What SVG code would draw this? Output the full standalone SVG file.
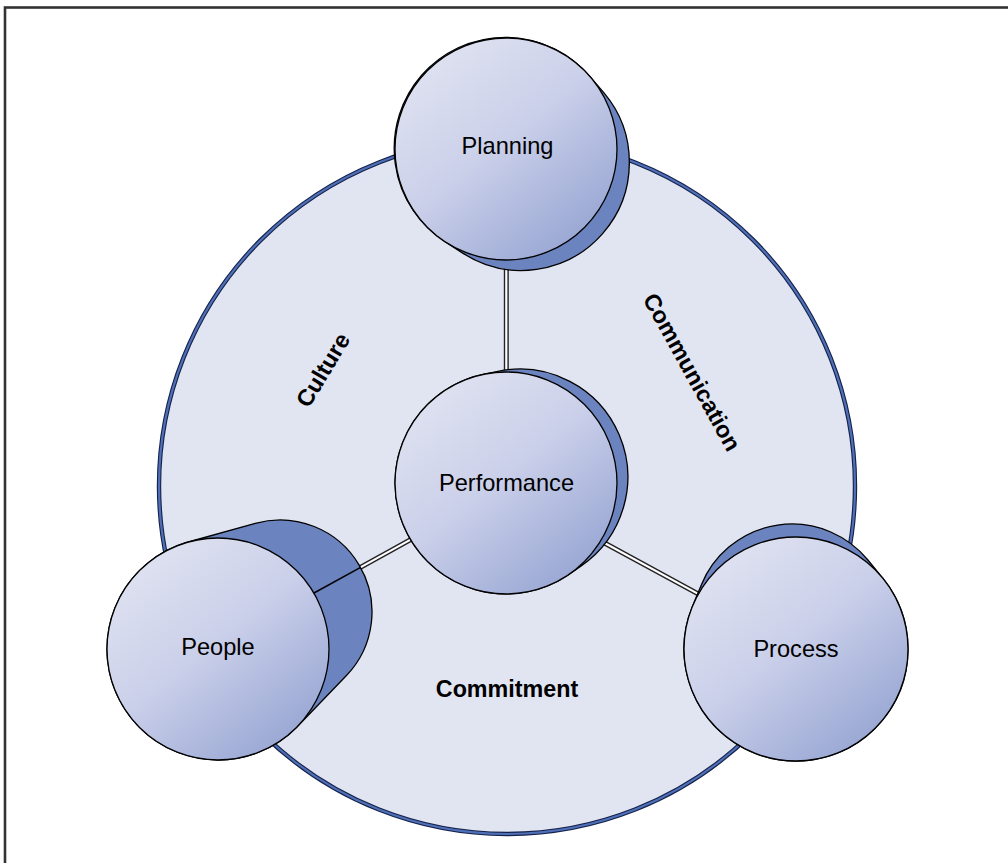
<svg xmlns="http://www.w3.org/2000/svg" width="1008" height="863" viewBox="0 0 1008 863">
<style>
.frame{fill:none;stroke:#333;stroke-width:2.6}
.big{fill:#e1e4f1}
.bigo{fill:none;stroke:#14214a;stroke-width:4.4}
.bigi{fill:none;stroke:#4f6fb6;stroke-width:2.2}
.shadow{fill:#6b84bf;stroke:#000;stroke-width:1.3;stroke-linejoin:round}
.front{fill:url(#g);stroke:#000;stroke-width:1.3}
.lbl{font-family:"Liberation Sans",Arial,sans-serif;font-size:23.6px;fill:#000;text-anchor:middle}
.blbl{font-family:"Liberation Sans",Arial,sans-serif;font-size:23.3px;font-weight:bold;fill:#000;text-anchor:middle}
.co{stroke:#222;stroke-width:5;fill:none}
.ci{stroke:#fff;stroke-width:2.2;fill:none}
.single{stroke:#000;stroke-width:1.5;fill:none}
</style>
<defs>
<linearGradient id="g" x1="0.15" y1="0.08" x2="0.85" y2="0.95">
<stop offset="0" stop-color="#dfe2f0"/>
<stop offset="0.45" stop-color="#cbd0ea"/>
<stop offset="1" stop-color="#95a4d2"/>
</linearGradient>
</defs>
<rect class="frame" x="5" y="7.5" width="1012" height="870"/>
<g id="ring">
<circle class="big" cx="507" cy="486" r="348"/>
<circle class="bigo" cx="507" cy="486" r="348"/>
<circle class="bigi" cx="507" cy="486" r="348"/>
</g>
<g id="connectors">
<line class="co" x1="506.3" y1="250" x2="506.3" y2="380"/>
<line class="ci" x1="506.3" y1="250" x2="506.3" y2="380"/>
<line class="co" x1="440" y1="523.4" x2="355" y2="570.4"/>
<line class="ci" x1="440" y1="523.4" x2="355" y2="570.4"/>
<line class="co" x1="570" y1="524.3" x2="705" y2="597.6"/>
<line class="ci" x1="570" y1="524.3" x2="705" y2="597.6"/>
</g>
<g id="labels">
<text class="blbl" transform="translate(323,370) rotate(-59)" x="0" y="8">Culture</text>
<text class="blbl" transform="translate(692,372) rotate(61)" x="0" y="8">Communication</text>
<text class="blbl" x="507" y="696.5">Commitment</text>
</g>
<g id="node-planning">
<path class="shadow" d="M590,76.7 L603.8,92.7 A108,108 0 0 1 463.1,253.4 L445.5,241.9 A111,111 0 1 1 590,76.7 Z"/>
<circle class="front" cx="506" cy="149" r="111"/>
<text class="lbl" x="507.5" y="154.3">Planning</text>
</g>
<g id="node-performance">
<path class="shadow" d="M483.2,374.3 L497.9,371.3 A108,108 0 0 1 581.2,565.9 L568.9,574.4 A111,111 0 1 1 483.2,374.3 Z"/>
<circle class="front" cx="506" cy="483" r="111"/>
<text class="lbl" x="506.5" y="490.7">Performance</text>
</g>
<g id="node-people">
<path class="shadow" d="M188.3,542 L255.3,523.3 A92,92 0 0 1 346.2,675.8 L297.9,726 A111,111 0 1 1 188.3,542 Z"/>
<line class="single" x1="360.6" y1="567.3" x2="314" y2="593"/>
<circle class="front" cx="218" cy="649" r="111"/>
<text class="lbl" x="218" y="655">People</text>
</g>
<g id="node-process">
<path class="shadow" d="M692.5,606.3 L701.4,584.7 A98,98 0 0 1 867.9,560 L882.7,578.1 A112,112 0 1 1 692.5,606.3 Z"/>
<circle class="front" cx="796" cy="649" r="112"/>
<text class="lbl" x="796" y="656.7">Process</text>
</g>
</svg>
